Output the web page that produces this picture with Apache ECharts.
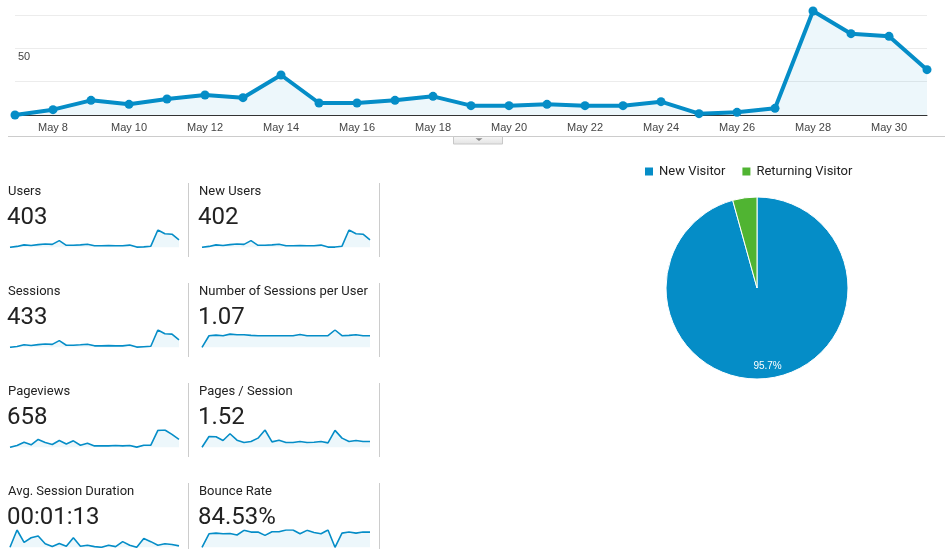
<!DOCTYPE html>
<html><head><meta charset="utf-8">
<script src="https://cdn.jsdelivr.net/npm/echarts@6/dist/echarts.min.js"></script>
<style>html,body{margin:0;padding:0;background:#fff}#c{width:949px;height:549px}</style>
</head><body><div id="c"></div><script>
const dates = ['May 7','May 8','May 9','May 10','May 11','May 12','May 13','May 14','May 15','May 16','May 17','May 18','May 19','May 20','May 21','May 22','May 23','May 24','May 25','May 26','May 27','May 28','May 29','May 30','May 31'];
const yTickShown = [50];
const users = [0,4,11,8,12,15,13,30,9,9,11,14,7,7,8,7,7,10,1,2,5,78,61,59,34];
const newUsers = [0,4,11,8,12,15,13,30,9,9,11,14,7,7,8,7,7,10,1,1,5,78,61,59,34];
const sessions = [0,4,12,9,13,16,14,32,10,10,12,15,7,7,8,7,7,11,1,3,5,83,65,63,36];
const sessionsPerUser = [0,1.07,1.13,1.07,1.22,1.16,1.16,1.10,1.07,1.07,1.07,1.07,1.07,1.07,1.19,1.07,1.07,1.07,1.07,1.6,1.07,1.10,1.16,1.07,1.07];
const pageviews = [0,10,29,14,45,27,16,39,19,37,12,23,8,8,8,10,8,10,1,12,12,97,99,74,45];
const pagesPerSession = [0,2.82,2.74,1.76,3.53,1.85,1.24,1.5,2.38,4.5,1.41,1.85,1.24,1.24,1.5,1.24,1.32,1.5,1.15,4.41,2.38,1.5,1.76,1.5,1.5];
const avgDuration = [0,294,84,162,192,60,12,66,18,162,18,36,12,0,36,12,96,36,0,150,96,36,60,48,24];
const bounceRate = [0,78,82,78,80,71,98,88,88,69,90,90,100,100,78,98,86,78,100,0,82,88,82,88,88];
const metricNames = ['Users','New Users','Sessions','Number of Sessions per User','Pageviews','Pages / Session','Avg. Session Duration','Bounce Rate'];
const metricTotals = ['403','402','433','1.07','658','1.52','00:01:13','84.53%'];
const visitorTypes = ['New Visitor','Returning Visitor'];
const visitorShares = [95.7, 4.3];

const sparkData = [users,newUsers,sessions,sessionsPerUser,pageviews,pagesPerSession,avgDuration,bounceRate];
const BLUE = '#058dc7', GREEN = '#50b432', AREA = 'rgba(5,141,199,0.1)';
const FONT = 'Roboto, Arial, sans-serif';

const grids = [{left:15, right:22, top:0, height:115}];
const xAxes = [{
  gridIndex:0, type:'category', data:dates, boundaryGap:false,
  axisLine:{lineStyle:{color:'#333', width:1}}, axisTick:{show:false},
  axisLabel:{interval:(i)=>i%2===1, color:'#444', fontSize:11, fontFamily:'Arial, sans-serif', margin:7}
}];
const yAxes = [{
  gridIndex:0, type:'value', min:0, max:86.25, interval:25,
  axisLine:{show:false}, axisTick:{show:false},
  splitLine:{lineStyle:{color:'#ececec'}, showMaxLine:false},
  axisLabel:{inside:true, margin:3, verticalAlign:'top', padding:[3,0,0,0], color:'#444', fontSize:11, fontFamily:'Arial, sans-serif',
    formatter:(v)=> yTickShown.indexOf(v)>=0 ? String(v) : ''}
}];
const series = [{
  type:'line', xAxisIndex:0, yAxisIndex:0, data:users, symbol:'circle', symbolSize:9,
  lineStyle:{color:BLUE, width:4}, itemStyle:{color:BLUE}, areaStyle:{color:AREA}, silent:true
}];
const graphics = [];
sparkData.forEach((d,k)=>{
  const col = k%2, row = Math.floor(k/2);
  grids.push({left: col?202:10, width: col?168:169, top: 230+100*row, height:17.3});
  xAxes.push({gridIndex:k+1, type:'category', data:dates, boundaryGap:false, show:false});
  yAxes.push({gridIndex:k+1, type:'value', min:0, max:'dataMax', show:false, splitLine:{show:false}});
  series.push({type:'line', xAxisIndex:k+1, yAxisIndex:k+1, data:d, symbol:'none',
    lineStyle:{color:BLUE, width:1.6}, areaStyle:{color:AREA}, silent:true});
  graphics.push({type:'text', left: col?199:8, top: 185+100*row, style:{text:metricNames[k], fill:'#222', font:'13px '+FONT}});
  graphics.push({type:'text', left: col?198:7, top: 206+100*row, style:{text:metricTotals[k], fill:'#222', font:'24px '+FONT}});
});
for (let r=0;r<4;r++){
  [188.5,379.5].forEach(x=>{
    graphics.push({type:'line', shape:{x1:x,y1:183+100*r,x2:x,y2:Math.min(257+100*r,549)}, style:{stroke:'#ccc', lineWidth:1}});
  });
}
graphics.push({type:'line', shape:{x1:8,y1:136.5,x2:945,y2:136.5}, style:{stroke:'#ccc', lineWidth:1}});
graphics.push({type:'rect', shape:{x:453.5,y:136.5,width:49,height:7.5},
  style:{fill:new echarts.graphic.LinearGradient(0,0,0,1,[{offset:0,color:'#f8f8f8'},{offset:1,color:'#e2e2e2'}]), stroke:'#c8c8c8', lineWidth:1}});
graphics.push({type:'polygon', shape:{points:[[475.5,138.3],[482.5,138.3],[479,141]]}, style:{fill:'#888'}});

const pieData = visitorTypes.map((n,i)=>({name:n, value:visitorShares[i], itemStyle:{color:[BLUE,GREEN][i]}}));
series.push({type:'pie', center:[757,288], radius:[0,91], startAngle:90, clockwise:true, data:pieData,
  label:{show:false}, labelLine:{show:false}, itemStyle:{borderColor:'#fff', borderWidth:1}, silent:true});
series.push({type:'pie', center:[757,288], radius:[60,91], startAngle:90, clockwise:true,
  data:visitorTypes.map((n,i)=>({name:n, value:visitorShares[i], itemStyle:{color:'rgba(0,0,0,0)'}})),
  label:{show:true, position:'inside', color:'#fff', fontSize:10, fontFamily:'Arial, sans-serif',
    formatter:(p)=> p.value>10 ? p.value.toFixed(1)+'%' : ''}, labelLine:{show:false}, silent:true, z:5});

const chart = echarts.init(document.getElementById('c'));
chart.setOption({
  animation:false,
  legend:{data:visitorTypes, left:638, top:160, icon:'rect', itemWidth:10, itemHeight:10, itemGap:15, selectedMode:false,
    textStyle:{color:'#222', fontSize:13, fontFamily:FONT}},
  grid:grids, xAxis:xAxes, yAxis:yAxes, series:series, graphic:graphics
});
</script></body></html>
